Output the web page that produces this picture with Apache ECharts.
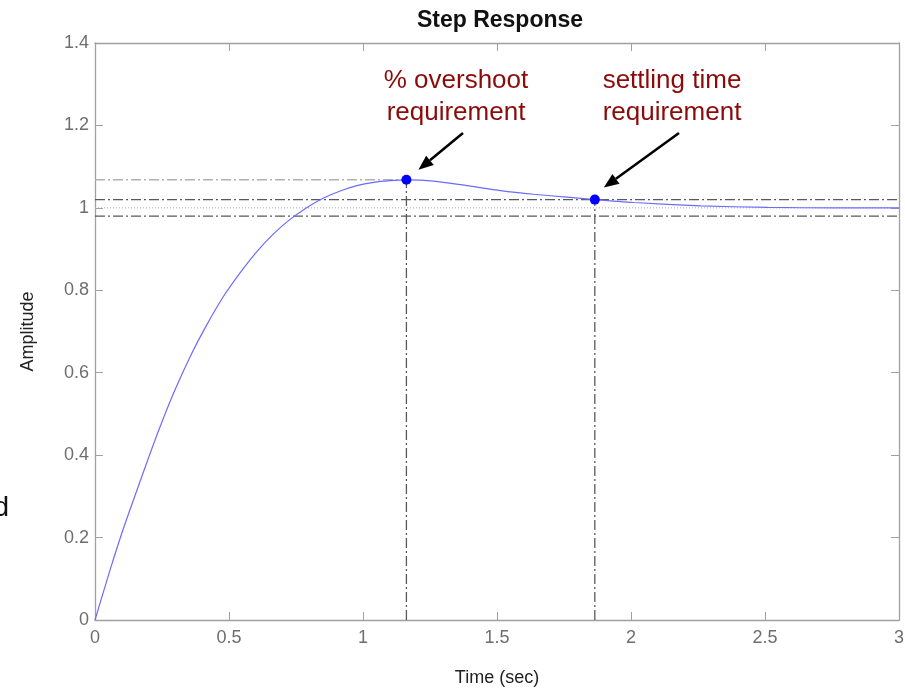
<!DOCTYPE html>
<html>
<head>
<meta charset="UTF-8">
<title>Step Response</title>
<script src="https://cdn.jsdelivr.net/npm/echarts@6/dist/echarts.min.js"></script>
<style>
    html, body { margin: 0; padding: 0; background: #fff; }
    #chart { width: 905px; height: 688px; }
</style>
</head>
<body>
<div id="chart"></div>
<script type="text/javascript">
    // step response: [time, amplitude]
    var response = [
        [0, 0], [0.056, 0.121], [0.106, 0.222], [0.168, 0.336], [0.23, 0.447],
        [0.293, 0.55], [0.355, 0.639], [0.417, 0.716], [0.479, 0.785], [0.542, 0.843],
        [0.604, 0.894], [0.666, 0.937], [0.728, 0.972], [0.791, 1.001], [0.853, 1.024],
        [0.915, 1.041], [0.977, 1.054], [1.04, 1.062], [1.1, 1.066], [1.162, 1.068],
        [1.264, 1.065], [1.388, 1.054], [1.513, 1.042], [1.637, 1.033], [1.762, 1.026],
        [1.865, 1.02], [2.011, 1.013], [2.26, 1.005], [2.51, 1.001], [2.76, 1.0], [3.0, 1.0]
    ];
    var peakPoint = [1.162, 1.068];
    var settlePoint = [1.865, 1.02];
    var bandHigh = 1.02, bandLow = 0.98, finalValue = 1.0;
    var xTicks = [0, 3, 0.5];     // min, max, interval
    var yTicks = [0, 1.4, 0.2];

    var darkDash = { color: '#585858', width: 1.3, type: [10, 3, 2, 3] };
    var lightDash = { color: '#b0b0b0', width: 1.5, type: [10, 3, 2, 3] };
    var labelFont = 'Liberation Sans, Arial, sans-serif';

    function refLine(data, style) {
        return {
            type: 'line', data: data, symbol: 'none', silent: true,
            lineStyle: style, z: 1, animation: false
        };
    }

    var myChart = echarts.init(document.getElementById('chart'));

    var axisBase = {
        type: 'value',
        splitLine: { show: false },
        axisLine: { show: true, onZero: false, lineStyle: { color: '#a0a0a0', width: 1.3 } },
        axisTick: { show: true, inside: true, length: 8, lineStyle: { color: '#a0a0a0' } },
        axisLabel: { color: '#6e6e6e', fontSize: 18, fontFamily: labelFont }
    };

    function ax(extra) {
        return echarts.util.merge(echarts.util.clone(axisBase), extra, true);
    }

    option = {
        animation: false,
        backgroundColor: '#fff',
        title: {
            text: 'Step Response',
            left: 495, top: 4, textAlign: 'center',
            textStyle: { color: '#111', fontSize: 23, fontWeight: 'bold', fontFamily: labelFont }
        },
        grid: { left: 95, right: 6, top: 43, bottom: 68, containLabel: false, outerBoundsMode: 'none' },
        xAxis: [
            ax({ min: xTicks[0], max: xTicks[1], interval: xTicks[2], position: 'bottom',
                 name: 'Time (sec)', nameLocation: 'middle', nameGap: 49,
                 nameTextStyle: { color: '#222', fontSize: 18, fontFamily: labelFont },
                 axisLabel: { margin: 9 } }),
            ax({ min: xTicks[0], max: xTicks[1], interval: xTicks[2], position: 'top',
                 axisLabel: { show: false } })
        ],
        yAxis: [
            ax({ min: yTicks[0], max: yTicks[1], interval: yTicks[2], position: 'left',
                 name: 'Amplitude', nameLocation: 'middle', nameGap: 58,
                 nameTextStyle: { color: '#222', fontSize: 18, fontFamily: labelFont },
                 axisLabel: { margin: 6 } }),
            ax({ min: yTicks[0], max: yTicks[1], interval: yTicks[2], position: 'right',
                 axisLabel: { show: false } })
        ],
        series: [
            refLine([[0, finalValue], [3, finalValue]], { color: '#a8a8a8', width: 1, type: [1, 2] }),
            refLine([[0, bandHigh], [3, bandHigh]], darkDash),
            refLine([[0, bandLow], [3, bandLow]], darkDash),
            refLine([[0, peakPoint[1]], peakPoint], lightDash),
            refLine([[peakPoint[0], 0], peakPoint], darkDash),
            refLine([[settlePoint[0], 0], settlePoint], darkDash),
            {
                type: 'line', data: response, symbol: 'none', smooth: 0.25,
                lineStyle: { color: '#6b6bff', width: 1.2 }, z: 3
            },
            {
                type: 'scatter', data: [peakPoint, settlePoint], symbolSize: 10,
                itemStyle: { color: '#0000ff', opacity: 1 }, z: 4
            }
        ]
    };
    myChart.setOption(option);

    // annotations: text plus arrow pointing at the marked points
    function arrow(x1, y1, x2, y2) {
        var ang = Math.atan2(y2 - y1, x2 - x1), len = 15, half = 6;
        var bx = x2 - len * Math.cos(ang), by = y2 - len * Math.sin(ang);
        var px = -Math.sin(ang) * half, py = Math.cos(ang) * half;
        return [
            { type: 'line', shape: { x1: x1, y1: y1, x2: bx, y2: by },
              style: { stroke: '#000', lineWidth: 2.5 } },
            { type: 'polygon', shape: { points: [[x2, y2], [bx + px, by + py], [bx - px, by - py]] },
              style: { fill: '#000' } }
        ];
    }

    var pk = myChart.convertToPixel({ gridIndex: 0 }, peakPoint);
    var st = myChart.convertToPixel({ gridIndex: 0 }, settlePoint);
    var annStyle = { fill: '#8b0a0a', fontSize: 26, fontFamily: labelFont, align: 'center', lineHeight: 32 };

    var elems = [
        { type: 'text', x: 456, y: 65, style: echarts.util.extend({ text: '% overshoot\nrequirement' }, annStyle) },
        { type: 'text', x: 672, y: 65, style: echarts.util.extend({ text: 'settling time\nrequirement' }, annStyle) },
        { type: 'text', x: 9, y: 494, style: { text: 'd', fill: '#111', fontSize: 28, fontFamily: labelFont, align: 'right' } }
    ].concat(arrow(463, 133, pk[0] + 12, pk[1] - 10))
     .concat(arrow(679, 133, st[0] + 9, st[1] - 12));

    myChart.setOption({ graphic: { elements: elems } });
</script>
</body>
</html>
